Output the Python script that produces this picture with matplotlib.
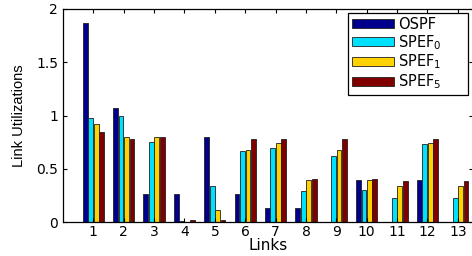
import numpy as np
import matplotlib.pyplot as plt

plt.rcParams['font.family'] = 'DejaVu Sans'
plt.rcParams['mathtext.default'] = 'regular'

# link utilizations
links = np.arange(1, 14)
ospf = [1.87, 1.07, 0.266, 0.266, 0.80, 0.266, 0.131, 0.131, 0.0, 0.397, 0.0, 0.397, 0.0]
spef0 = [0.98, 1.00, 0.75, 0.005, 0.334, 0.666, 0.694, 0.29, 0.622, 0.297, 0.228, 0.728, 0.228]
spef1 = [0.92, 0.80, 0.80, 0.0, 0.116, 0.678, 0.741, 0.397, 0.678, 0.397, 0.3375, 0.741, 0.3375]
spef5 = [0.844, 0.78, 0.80, 0.022, 0.022, 0.778, 0.778, 0.406, 0.778, 0.406, 0.384, 0.778, 0.384]

series = [ospf, spef0, spef1, spef5]
names = ['OSPF', 'SPEF$_0$', 'SPEF$_1$', 'SPEF$_5$']
colors = ['#00008C', '#00E0FF', '#FFD200', '#800000']

fig = plt.figure(figsize=(4.72, 2.56), dpi=100)
ax = fig.add_axes([63/472, 34/256, 410/472, 213/256])

step = 0.18
for i, (vals, nm, c) in enumerate(zip(series, names, colors)):
    ax.bar(links + (i - 1.5)*step, vals, width=0.16, color=c,
           edgecolor='#202020', linewidth=0.6, label=nm)

ax.set_xlim(0, 13.5)
ax.set_ylim(0, 2)
ax.set_xticks(links)
ax.set_yticks([0, 0.5, 1, 1.5, 2])
ax.set_yticklabels(['0', '0.5', '1', '1.5', '2'])
ax.tick_params(direction='in', top=True, right=True, labelsize=10, length=3, width=0.8)
ax.tick_params(axis='x', pad=2.5)
for s in ax.spines.values():
    s.set_linewidth(0.9)
ax.set_xlabel('Links', fontsize=11, labelpad=-1)
ax.set_ylabel('Link Utilizations', fontsize=10.5,
              family=['Liberation Sans Narrow', 'Liberation Sans'], labelpad=7)

# legend box stretched to the reference size
leg = ax.legend(loc='upper left',
                bbox_to_anchor=(348/472, 1 - 91/256, 120/472, 78/256),
                bbox_transform=fig.transFigure, mode='expand',
                fontsize=10.5, fancybox=False, framealpha=1, edgecolor='black',
                handlelength=2.9, handleheight=0.6, handletextpad=0.3,
                labelspacing=0.08, borderpad=0.25, borderaxespad=0)
leg.get_frame().set_linewidth(0.9)

fig.savefig('out.png', dpi=100)
